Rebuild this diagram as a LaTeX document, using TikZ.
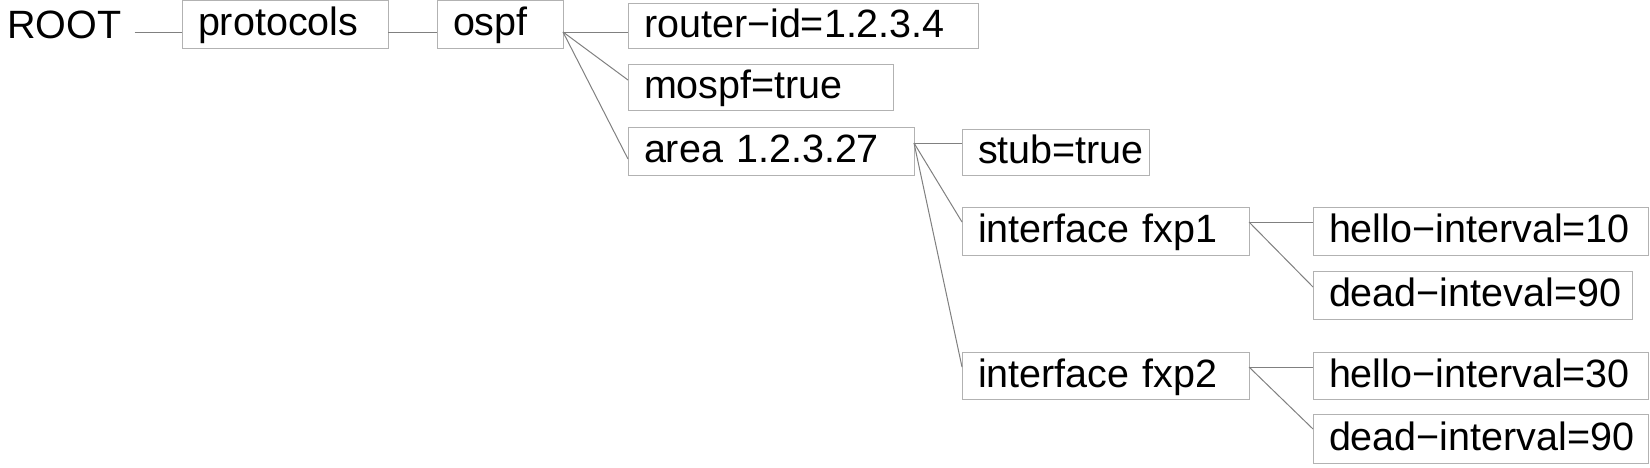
\documentclass[tikz,border=0pt]{standalone}
\usepackage{fontspec}
\setmainfont{Liberation Sans}
\usetikzlibrary{positioning}
\definecolor{boxgray}{gray}{0.7}
\definecolor{linkgray}{gray}{0.5}

\begin{document}
\begin{tikzpicture}[x=1pt, y=-1pt, font=\fontsize{39.5}{47}\selectfont,
    cfgbox/.style={draw=boxgray, line width=1pt, anchor=north west, align=left,
      inner xsep=16pt, inner ysep=0pt, outer sep=0pt, text height=29pt, text depth=6pt},
    link/.style={draw=linkgray, line width=1pt}]
  \useasboundingbox (0,0) rectangle (1650,467);

  % Root and top level
  \node[anchor=base west, inner sep=0pt] (root) at (7,38) {ROOT};
  \node[cfgbox, text width=174pt, minimum height=48pt] (protocols) at (182,0) {protocols};
  \node[cfgbox, text width=94pt, minimum height=48pt] (ospf) at (437,0) {ospf};

  % Children of ospf
  \node[cfgbox, text width=318pt, minimum height=45pt] (routerid) at (628,3) {router−id=1.2.3.4};
  \node[cfgbox, text width=233pt, minimum height=46pt] (mospf) at (628,64) {mospf=true};
  \node[cfgbox, text width=254pt, minimum height=48pt] (area) at (628,127) {area 1.2.3.27};

  % Children of area
  \node[cfgbox, text width=155pt, minimum height=46pt] (stub) at (962,129) {stub=true};
  \node[cfgbox, text width=255pt, minimum height=48pt] (fxpone) at (962,207) {interface fxp1};
  \node[cfgbox, text width=255pt, minimum height=47pt] (fxptwo) at (962,352) {interface fxp2};

  % Children of the interfaces
  \node[cfgbox, text width=303pt, minimum height=48pt] (helloone) at (1313,207) {hello−interval=10};
  \node[cfgbox, text width=287pt, minimum height=48pt] (deadone) at (1313,271) {dead−inteval=90};
  \node[cfgbox, text width=303pt, minimum height=47pt] (hellotwo) at (1313,352) {hello−interval=30};
  \node[cfgbox, text width=303pt, minimum height=49pt] (deadtwo) at (1313,414) {dead−interval=90};

  % Tree links
  \draw[link] ([xshift=13pt, yshift=6pt]root.base east) edge ([yshift=-32pt]protocols.north west)
        ([yshift=-32pt]protocols.north east) edge ([yshift=-32pt]ospf.north west)
        ([yshift=-32pt]ospf.north east) edge ([yshift=-29pt]routerid.north west)
        ([yshift=-32pt]ospf.north east) edge ([yshift=-16pt]mospf.north west)
        ([yshift=-32pt]ospf.north east) edge ([yshift=-32pt]area.north west)
        ([yshift=-16pt]area.north east) edge ([yshift=-14pt]stub.north west)
        ([yshift=-16pt]area.north east) edge ([yshift=-15pt]fxpone.north west)
        ([yshift=-16pt]area.north east) edge ([yshift=-15pt]fxptwo.north west)
        ([yshift=-15pt]fxpone.north east) edge ([yshift=-15pt]helloone.north west)
        ([yshift=-15pt]fxpone.north east) edge ([yshift=-16pt]deadone.north west)
        ([yshift=-15pt]fxptwo.north east) edge ([yshift=-15pt]hellotwo.north west)
        ([yshift=-15pt]fxptwo.north east) edge ([yshift=-15pt]deadtwo.north west);
\end{tikzpicture}
\end{document}
